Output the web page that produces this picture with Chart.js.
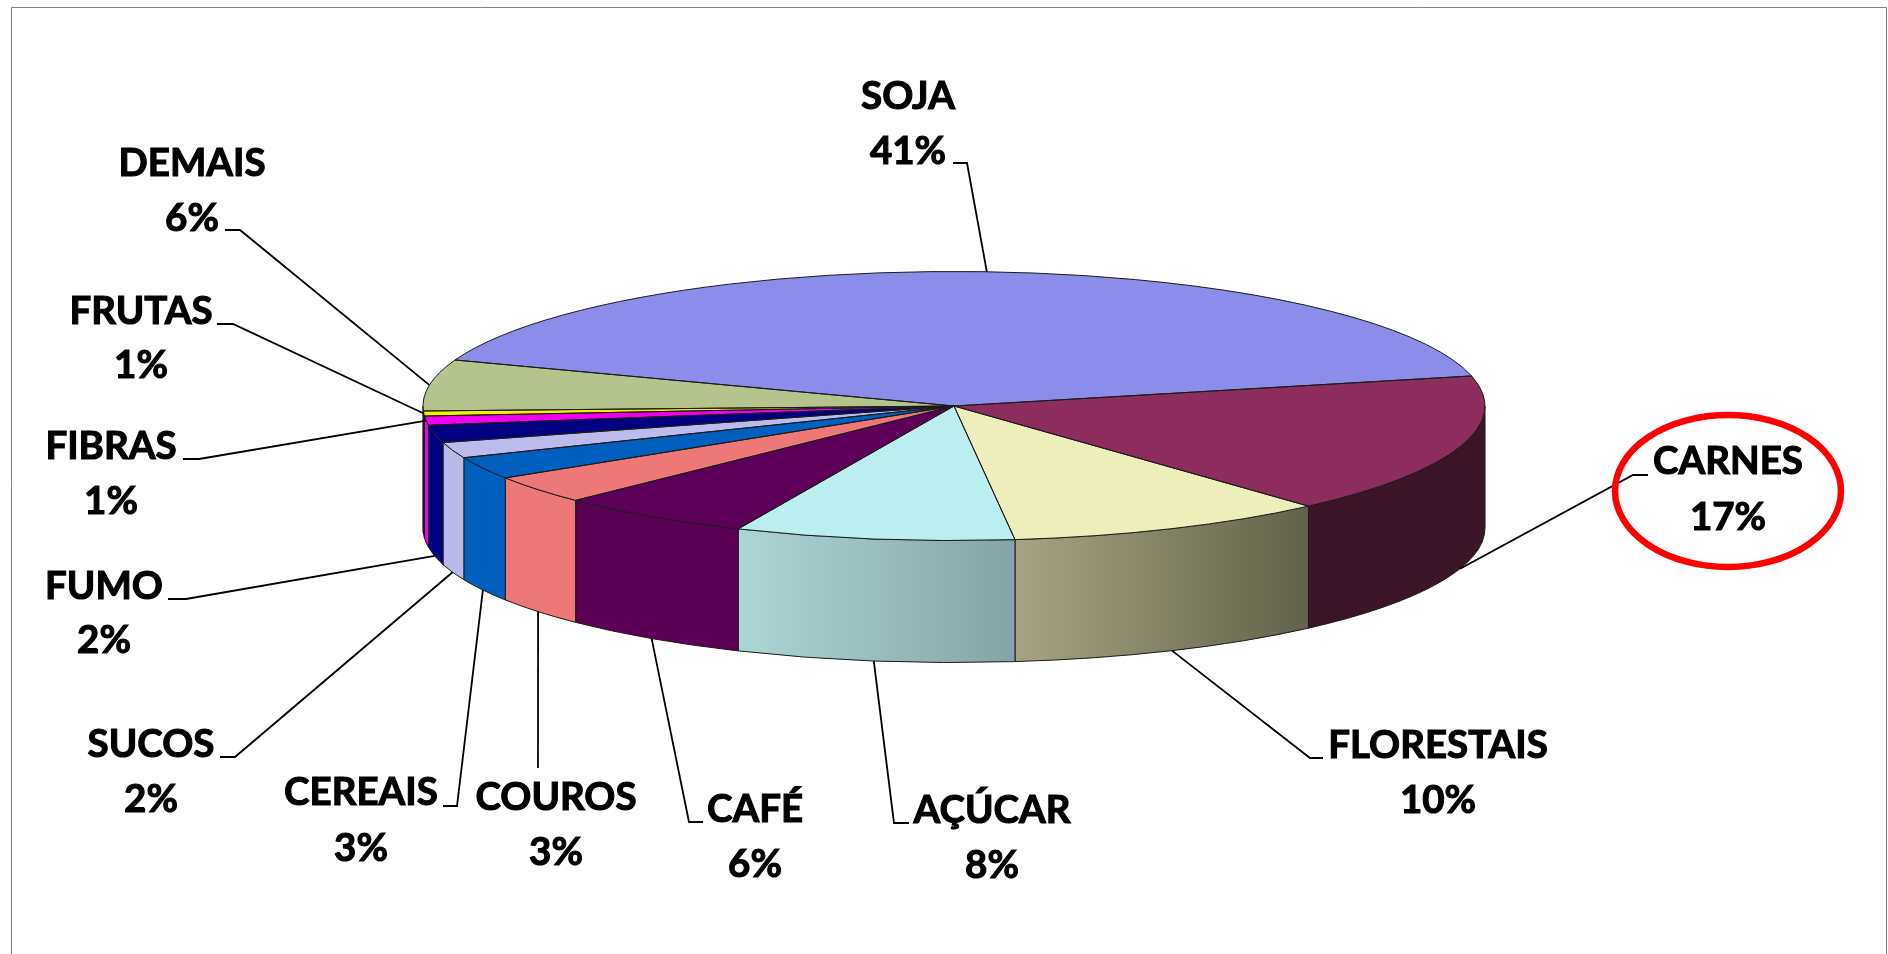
<!DOCTYPE html>
<html lang="pt">
<head>
  <meta charset="UTF-8">
  <title>Exportações</title>
  <script src="https://cdn.jsdelivr.net/npm/chart.js"></script>
  <style>
    html, body { margin: 0; padding: 0; background: #fff; overflow: hidden; }
    #wrap { width: 1888px; height: 954px; }
  </style>
</head>
<body>
  <div id="wrap"><canvas id="pie" width="1888" height="954"></canvas></div>

  <script>
    const categories = ['SOJA', 'CARNES', 'FLORESTAIS', 'AÇÚCAR', 'CAFÉ', 'COUROS', 'CEREAIS', 'SUCOS', 'FUMO', 'FIBRAS', 'FRUTAS', 'DEMAIS'];
    // slice sizes, the labels only show the rounded figure
    const sliceShares = [40.9, 16.97, 9.81, 8.5, 5.97, 3.4, 2.7, 1.9, 2.1, 1.1, 0.6, 6.15];
    const shownPercents = [41, 17, 10, 8, 6, 3, 3, 2, 2, 1, 1, 6];

    const topColors = ['#8c8ceb', '#8c2d5e', '#eeeebb', '#bbeeee', '#5e0059', '#ee7777', '#0060c0', '#bbbbee', '#000080', '#f000f0', '#f0f000', '#b5c48c'];
    const wallLeft = ['#5a5a98', '#3c1428', '#a6a480', '#acd6d5', '#5c0055', '#ee7777', '#0060bf', '#b9b9e9', '#000080', '#f000f0', '#8a8a00', '#6e7a50'];
    const wallRight = ['#5a5a98', '#3c1428', '#62624b', '#84a4a6', '#5c0055', '#ee7777', '#0060bf', '#b9b9e9', '#000080', '#f000f0', '#8a8a00', '#6e7a50'];

    // label placement: centre x, baseline of name, baseline of percent
    const labelX = [908, 1728, 1438, 992, 755, 556, 361, 151, 104, 111, 141, 192];
    const nameY = [109, 474, 758, 823, 822, 810, 805, 757, 599, 459, 324, 176];
    const percentY = [164, 530, 813, 878, 877, 865, 861, 812, 653, 514, 378, 231];
    // leader lines: tick start x, elbow x, elbow y (null = no tick)
    const tickX = [953, 1648, 1323, 909, 703, null, 443, 220, 168, 183, 217, 225];
    const elbowX = [967, 1633, 1310, 894, 689, 538, 457, 235, 186, 199, 233, 240];
    const elbowY = [163, 475, 758, 823, 822, 768, 806, 757, 599, 459, 324, 230];

    const rimX = 531, rimY = 134.5, depth = 122;
    const labelFont = '700 38.5px Lato, "Liberation Sans", sans-serif';

    const TWO_PI = Math.PI * 2;

    const pie3d = {
      id: 'pie3d',
      beforeDatasetsDraw(chart) {
        const ctx = chart.ctx;
        const arcs = chart.getDatasetMeta(0).data;

        // outer frame
        ctx.save();
        ctx.strokeStyle = '#808080';
        ctx.lineWidth = 1;
        ctx.beginPath();
        ctx.moveTo(11.5, 954);
        ctx.lineTo(11.5, 7.5);
        ctx.lineTo(1886.5, 7.5);
        ctx.lineTo(1886.5, 954);
        ctx.stroke();
        ctx.restore();

        // side wall of the disc, only the front half shows
        ctx.save();
        arcs.forEach((a, i) => {
          let s = a.startAngle % TWO_PI;
          if (s < 0) s += TWO_PI;
          const e = s + (a.endAngle - a.startAngle);
          [[0, Math.PI], [TWO_PI, TWO_PI + Math.PI]].forEach(([lo, hi]) => {
            const from = Math.max(s, lo), to = Math.min(e, hi);
            if (to <= from) return;
            const xFrom = a.x + rimX * Math.cos(from);
            const xTo = a.x + rimX * Math.cos(to);
            const grad = ctx.createLinearGradient(xTo, 0, xFrom, 0);
            grad.addColorStop(0, wallLeft[i]);
            grad.addColorStop(1, wallRight[i]);
            ctx.beginPath();
            ctx.ellipse(a.x, a.y, rimX, rimY, 0, from, to);
            ctx.ellipse(a.x, a.y + depth, rimX, rimY, 0, to, from, true);
            ctx.closePath();
            ctx.fillStyle = grad;
            ctx.fill();
            ctx.strokeStyle = '#1a1a1a';
            ctx.lineWidth = 1;
            ctx.stroke();
          });
        });
        ctx.restore();

        // the flat top: library arcs squeezed into the ellipse
        const c = arcs[0];
        ctx.save();
        ctx.translate(c.x, c.y);
        ctx.scale(rimX / c.outerRadius, rimY / c.outerRadius);
        ctx.translate(-c.x, -c.y);
      },
      afterDatasetsDraw(chart) {
        const ctx = chart.ctx;
        ctx.restore();
        const arcs = chart.getDatasetMeta(0).data;

        // slice outlines, stroked without the squeeze so the line stays even
        ctx.save();
        ctx.strokeStyle = '#1a1a1a';
        ctx.lineWidth = 1;
        arcs.forEach(a => {
          ctx.beginPath();
          ctx.moveTo(a.x, a.y);
          ctx.ellipse(a.x, a.y, rimX, rimY, 0, a.startAngle, a.endAngle);
          ctx.closePath();
          ctx.stroke();
        });
        ctx.restore();

        // leader lines
        ctx.save();
        ctx.strokeStyle = '#000';
        ctx.lineWidth = 1.8;
        arcs.forEach((a, i) => {
          const mid = (a.startAngle + a.endAngle) / 2;
          const sin = Math.sin(mid);
          const px = a.x + rimX * Math.cos(mid);
          const py = a.y + rimY * sin + (sin > 0.15 ? depth : 0);
          ctx.beginPath();
          if (tickX[i] !== null) ctx.moveTo(tickX[i], elbowY[i]);
          else ctx.moveTo(elbowX[i], elbowY[i]);
          ctx.lineTo(elbowX[i], elbowY[i]);
          ctx.lineTo(px, py);
          ctx.stroke();
        });
        ctx.restore();

        // labels, the thin stroke thickens them to the weight of the original
        ctx.save();
        ctx.fillStyle = '#000';
        ctx.strokeStyle = '#000';
        ctx.lineWidth = 1.1;
        ctx.font = labelFont;
        ctx.textAlign = 'center';
        ctx.textBaseline = 'alphabetic';
        categories.forEach((name, i) => {
          ctx.fillText(name, labelX[i], nameY[i]);
          ctx.strokeText(name, labelX[i], nameY[i]);
          ctx.fillText(shownPercents[i] + '%', labelX[i], percentY[i]);
          ctx.strokeText(shownPercents[i] + '%', labelX[i], percentY[i]);
        });
        ctx.restore();

        // red ring around CARNES
        const k = categories.indexOf('CARNES');
        ctx.save();
        ctx.strokeStyle = '#ff0000';
        ctx.lineWidth = 6.5;
        ctx.beginPath();
        ctx.ellipse(labelX[k], (nameY[k] + percentY[k]) / 2 - 11, 113, 76, 0, 0, TWO_PI);
        ctx.stroke();
        ctx.restore();
      }
    };

    new Chart(document.getElementById('pie'), {
      type: 'pie',
      data: {
        labels: categories,
        datasets: [{
          data: sliceShares,
          backgroundColor: topColors,
          borderWidth: 0
        }]
      },
      options: {
        responsive: false,
        animation: false,
        rotation: 290,
        layout: { padding: { left: 20, top: 0, right: 0, bottom: 142 } },
        plugins: { legend: { display: false }, tooltip: { enabled: false } }
      },
      plugins: [pie3d]
    });
  </script>
</body>
</html>
